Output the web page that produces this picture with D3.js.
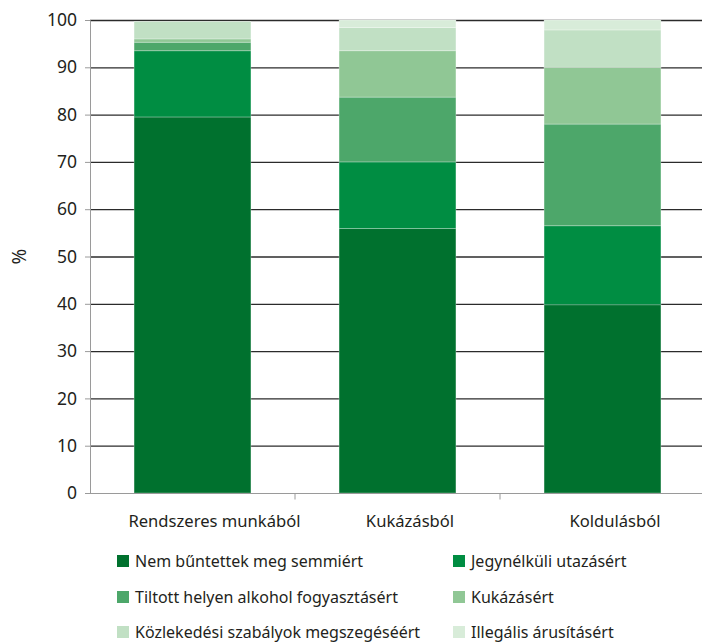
<!DOCTYPE html>
<html>
<head>
<meta charset="utf-8">
<script src="https://cdn.jsdelivr.net/npm/d3@7.9.0/dist/d3.min.js"></script>
<style>
  body { margin: 0; background: #fff; }
  text { font-family: "Noto Sans", sans-serif; fill: #231f20; }
</style>
</head>
<body>
<div class="container"></div>
<script>
// categories and series (percent of respondents)
const categories = ["Rendszeres munkából", "Kukázásból", "Koldulásból"];
const seriesNames = [
    "Nem bűntettek meg semmiért",
    "Jegynélküli utazásért",
    "Tiltott helyen alkohol fogyasztásért",
    "Kukázásért",
    "Közlekedési szabályok megszegéséért",
    "Illegális árusításért"
];
const nemBuntettek = [79.5, 55.9, 39.8];
const jegynelkuli = [14.0, 14.1, 16.7];
const alkohol = [1.8, 13.7, 21.5];
const kukazasert = [0.7, 9.8, 12.0];
const kozlekedesi = [3.7, 4.9, 7.9];
const illegalis = [0.0, 1.6, 2.1];
const yTicks = [0, 10, 20, 30, 40, 50, 60, 70, 80, 90, 100];
const colors = ["#00712e", "#008d42", "#4da76a", "#90c795", "#c1e0c4", "#d8ecd9"];

const width = 702, height = 642;
const margin = {top: 20, right: -3, bottom: 149, left: 90};
// the category labels sit a little right of the bar centres in the original
const labelNudge = [22, 12.5, 12.5];

const svg = d3.select(".container")
    .append("svg")
    .attr("width", width)
    .attr("height", height);

// build rows for the stack
const allSeries = [nemBuntettek, jegynelkuli, alkohol, kukazasert, kozlekedesi, illegalis];
const rows = categories.map((c, i) => {
    const r = {cat: c};
    seriesNames.forEach((s, j) => r[s] = allSeries[j][i]);
    return r;
});
const stacked = d3.stack().keys(seriesNames)(rows);

const x = d3.scaleBand()
    .domain(categories)
    .range([margin.left, width - margin.right])
    .paddingInner(0.43)
    .paddingOuter(0.215);

const y = d3.scaleLinear()
    .domain([0, 100])
    .range([height - margin.bottom, margin.top]);

// gridlines
svg.append("g")
    .selectAll("line")
    .data(yTicks.filter(d => d > 0))
    .enter().append("line")
    .attr("x1", margin.left)
    .attr("x2", width)
    .attr("y1", d => y(d) + 0.5)
    .attr("y2", d => y(d) + 0.5)
    .attr("stroke", "#2b2b2b")
    .attr("stroke-width", 1.3);

// bars
svg.append("g")
    .selectAll("g")
    .data(stacked)
    .enter().append("g")
    .attr("fill", (d, i) => colors[i])
    .selectAll("rect")
    .data(d => d)
    .enter().append("rect")
    .attr("x", d => x(d.data.cat))
    .attr("width", x.bandwidth())
    .attr("y", d => y(d[1]))
    .attr("height", d => y(d[0]) - y(d[1]))
    .attr("stroke", "#ffffff")
    .attr("stroke-opacity", 0.35)
    .attr("stroke-width", 0.8);

// y axis
const yAxis = svg.append("g")
    .attr("transform", `translate(${margin.left},0)`)
    .call(d3.axisLeft(y).tickValues(yTicks).tickSize(5).tickPadding(8));
yAxis.select(".domain").attr("stroke", "#9a9a9a");
yAxis.selectAll(".tick line").attr("stroke", "#9a9a9a");
yAxis.selectAll(".tick text")
    .style("font-size", "17.5px")
    .attr("fill", "#231f20");

// x axis (boundary ticks between categories)
const base = y(0) + 0.5;
svg.append("line")
    .attr("x1", margin.left)
    .attr("x2", width)
    .attr("y1", base)
    .attr("y2", base)
    .attr("stroke", "#9a9a9a");
svg.append("g")
    .selectAll("line")
    .data(categories.slice(1))
    .enter().append("line")
    .attr("x1", d => x(d) - x.step() * x.paddingInner() / 2)
    .attr("x2", d => x(d) - x.step() * x.paddingInner() / 2)
    .attr("y1", base)
    .attr("y2", base + 6)
    .attr("stroke", "#9a9a9a");

svg.append("g")
    .selectAll("text")
    .data(categories)
    .enter().append("text")
    .attr("x", (d, i) => x(d) + x.bandwidth() / 2 + labelNudge[i])
    .attr("y", 527)
    .attr("text-anchor", "middle")
    .style("font-size", "16.6px")
    .text(d => d);

// y label
svg.append("text")
    .attr("transform", `translate(26,${y(50)}) rotate(-90)`)
    .attr("text-anchor", "middle")
    .style("font-size", "19px")
    .text("%");

// legend
const legendX = [117, 453];
const legendY = [561, 597, 632];
const legend = svg.append("g")
    .selectAll("g")
    .data(seriesNames)
    .enter().append("g")
    .attr("transform", (d, i) => `translate(${legendX[i % 2]},${legendY[Math.floor(i / 2)]})`);
legend.append("rect")
    .attr("x", 0)
    .attr("y", -6)
    .attr("width", 12)
    .attr("height", 12)
    .attr("fill", (d, i) => colors[i]);
legend.append("text")
    .attr("x", 18)
    .attr("y", 0)
    .attr("dy", "0.35em")
    .style("font-size", "16px")
    .text(d => d);
</script>
</body>
</html>
